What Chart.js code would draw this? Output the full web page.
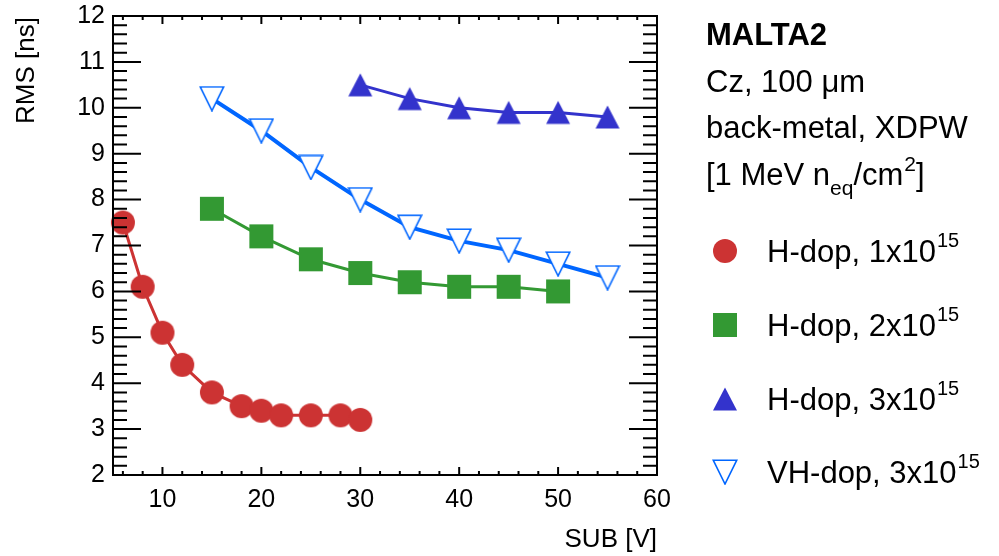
<!DOCTYPE html>
<html>
<head>
<meta charset="utf-8">
<script src="https://cdn.jsdelivr.net/npm/chart.js@4/dist/chart.umd.min.js"></script>
<style>
  html, body { margin: 0; padding: 0; background: #fff; }
  #wrap { width: 999px; height: 556px; }
</style>
</head>
<body>
<div id="wrap"><canvas id="rmsChart" width="999" height="556"></canvas></div>
<script>
// values
const SUB_H1 = [6, 8, 10, 12, 15, 18, 20, 22, 25, 28, 30];
const RMS_H1 = [7.5, 6.1, 5.1, 4.4, 3.8, 3.5, 3.4, 3.3, 3.3, 3.3, 3.2];
const SUB_H2 = [15, 20, 25, 30, 35, 40, 45, 50];
const RMS_H2 = [7.8, 7.2, 6.7, 6.4, 6.2, 6.1, 6.1, 6.0];
const SUB_H3 = [30, 35, 40, 45, 50, 55];
const RMS_H3 = [10.5, 10.2, 10.0, 9.9, 9.9, 9.8];
const SUB_VH3 = [15, 20, 25, 30, 35, 40, 45, 50, 55];
const RMS_VH3 = [10.2, 9.5, 8.7, 8.0, 7.4, 7.1, 6.9, 6.6, 6.3];

const X_TICKS = [10, 20, 30, 40, 50, 60];
const Y_TICKS = [2, 3, 4, 5, 6, 7, 8, 9, 10, 11, 12];
const SERIES_NAMES = ["H-dop, 1x10", "H-dop, 2x10", "H-dop, 3x10", "VH-dop, 3x10"];
const SERIES_EXP = "15";

const FONT = "'Liberation Sans', Arial, Helvetica, sans-serif";
Chart.defaults.font.family = FONT;

// little marker images, centred on their box like ROOT markers
function markerCanvas(shape, color) {
  const c = document.createElement("canvas");
  const s = 26;
  c.width = s; c.height = s;
  const g = c.getContext("2d");
  g.fillStyle = color;
  g.strokeStyle = color;
  if (shape === "circle") {
    g.beginPath();
    g.arc(s / 2, s / 2, 12, 0, Math.PI * 2);
    g.fill();
  } else if (shape === "square") {
    g.fillRect(1, 1, 24, 24);
  } else if (shape === "triUp") {
    g.beginPath();
    g.moveTo(s / 2, 1.5);
    g.lineTo(s - 1, 24.5);
    g.lineTo(1, 24.5);
    g.closePath();
    g.fill();
  } else {
    g.lineWidth = 1.6;
    g.beginPath();
    g.moveTo(1.2, 1.2);
    g.lineTo(s - 1.2, 1.2);
    g.lineTo(s / 2, s - 1);
    g.closePath();
    g.fillStyle = "#fff";
    g.fill();
    g.stroke();
  }
  return c;
}

const COLORS = ["#cc3333", "#339933", "#3333cc", "#0066ff"];
const MARKERS = [
  markerCanvas("circle", COLORS[0]),
  markerCanvas("square", COLORS[1]),
  markerCanvas("triUp", COLORS[2]),
  markerCanvas("triDown", COLORS[3])
];

function pts(xs, ys) {
  return xs.map((x, i) => ({ x, y: ys[i] }));
}

function drawSuper(ctx, x, y, base, sup, size) {
  ctx.font = `${size}px ${FONT}`;
  ctx.fillText(base, x, y);
  const w = ctx.measureText(base).width;
  ctx.font = `${Math.round(size * 0.66)}px ${FONT}`;
  ctx.fillText(sup, x + w + 1, y - 15);
}

const decorations = {
  id: "decorations",
  afterDraw(chart) {
    const { ctx, chartArea: a, scales: { x, y } } = chart;
    ctx.save();
    ctx.strokeStyle = "#000";
    ctx.fillStyle = "#000";
    ctx.lineWidth = 2;
    ctx.strokeRect(a.left, a.top, a.right - a.left, a.bottom - a.top);

    // ticks pointing inward on all four sides
    ctx.beginPath();
    for (let i = 0; i <= 50; i++) {
      const py = y.getPixelForValue(2 + i * 0.2);
      const major = i % 5 === 0;
      ctx.moveTo(a.left, py); ctx.lineTo(a.left + (major ? 28 : 14), py);
      ctx.moveTo(a.right, py); ctx.lineTo(a.right - (major ? 28 : 14), py);
    }
    for (let v = 6; v <= 60; v += 2) {
      const px = x.getPixelForValue(v);
      const major = v % 10 === 0;
      ctx.moveTo(px, a.bottom); ctx.lineTo(px, a.bottom - (major ? 8 : 4));
      ctx.moveTo(px, a.top); ctx.lineTo(px, a.top + (major ? 8 : 4));
    }
    ctx.stroke();

    // axis titles
    ctx.font = `26px ${FONT}`;
    ctx.textBaseline = "alphabetic";
    ctx.textAlign = "right";
    ctx.fillText("SUB [V]", a.right, 547);
    ctx.save();
    ctx.translate(34, a.top + 1);
    ctx.rotate(-Math.PI / 2);
    ctx.fillText("RMS [ns]", 0, 0);
    ctx.restore();

    // info block
    ctx.textAlign = "left";
    const tx = 706;
    ctx.font = `bold 31px ${FONT}`;
    ctx.fillText("MALTA2", tx, 45);
    ctx.font = `31px ${FONT}`;
    ctx.fillText("Cz, 100 \u03bcm", tx, 92);
    ctx.fillText("back-metal, XDPW", tx, 138);
    let cx = tx;
    ctx.fillText("[1 MeV n", cx, 185);
    cx += ctx.measureText("[1 MeV n").width;
    ctx.font = `21px ${FONT}`;
    ctx.fillText("eq", cx, 195);
    cx += ctx.measureText("eq").width;
    ctx.font = `31px ${FONT}`;
    ctx.fillText("/cm", cx, 185);
    cx += ctx.measureText("/cm").width;
    ctx.font = `21px ${FONT}`;
    ctx.fillText("2", cx + 1, 171);
    cx += ctx.measureText("2").width + 1;
    ctx.font = `31px ${FONT}`;
    ctx.fillText("]", cx, 185);

    // legend
    const rowsY = [251, 325, 399, 472];
    SERIES_NAMES.forEach((name, i) => {
      const m = MARKERS[i];
      ctx.drawImage(m, 725 - m.width / 2, rowsY[i] - m.height / 2);
      drawSuper(ctx, 767, rowsY[i] + 11, name, SERIES_EXP, 31);
    });
    ctx.restore();
  }
};

function series(label, xs, ys, i, lw) {
  return {
    label,
    data: pts(xs, ys),
    borderColor: COLORS[i],
    backgroundColor: COLORS[i],
    borderWidth: lw,
    pointStyle: MARKERS[i],
    pointRadius: 12,
    pointHoverRadius: 12,
    tension: 0,
    clip: false
  };
}

new Chart(document.getElementById("rmsChart"), {
  type: "line",
  data: {
    datasets: [
      series(SERIES_NAMES[0], SUB_H1, RMS_H1, 0, 3),
      series(SERIES_NAMES[1], SUB_H2, RMS_H2, 1, 3),
      series(SERIES_NAMES[2], SUB_H3, RMS_H3, 2, 3),
      series(SERIES_NAMES[3], SUB_VH3, RMS_VH3, 3, 4)
    ]
  },
  options: {
    responsive: false,
    animation: false,
    events: [],
    layout: { autoPadding: false, padding: { left: 0, right: 342, top: 16, bottom: 0 } },
    plugins: { legend: { display: false }, tooltip: { enabled: false } },
    scales: {
      x: {
        type: "linear",
        min: 5,
        max: 60,
        afterBuildTicks: s => { s.ticks = X_TICKS.map(v => ({ value: v })); },
        afterFit: s => { s.height = 81; },
        grid: { display: false },
        border: { display: false },
        ticks: { color: "#000", font: { size: 25 }, padding: 2, maxRotation: 0 }
      },
      y: {
        type: "linear",
        min: 2,
        max: 12,
        afterBuildTicks: s => { s.ticks = Y_TICKS.map(v => ({ value: v })); },
        afterFit: s => { s.width = 113; },
        grid: { display: false },
        border: { display: false },
        ticks: { color: "#000", font: { size: 25 }, padding: 0 }
      }
    }
  },
  plugins: [decorations]
});
</script>
</body>
</html>
